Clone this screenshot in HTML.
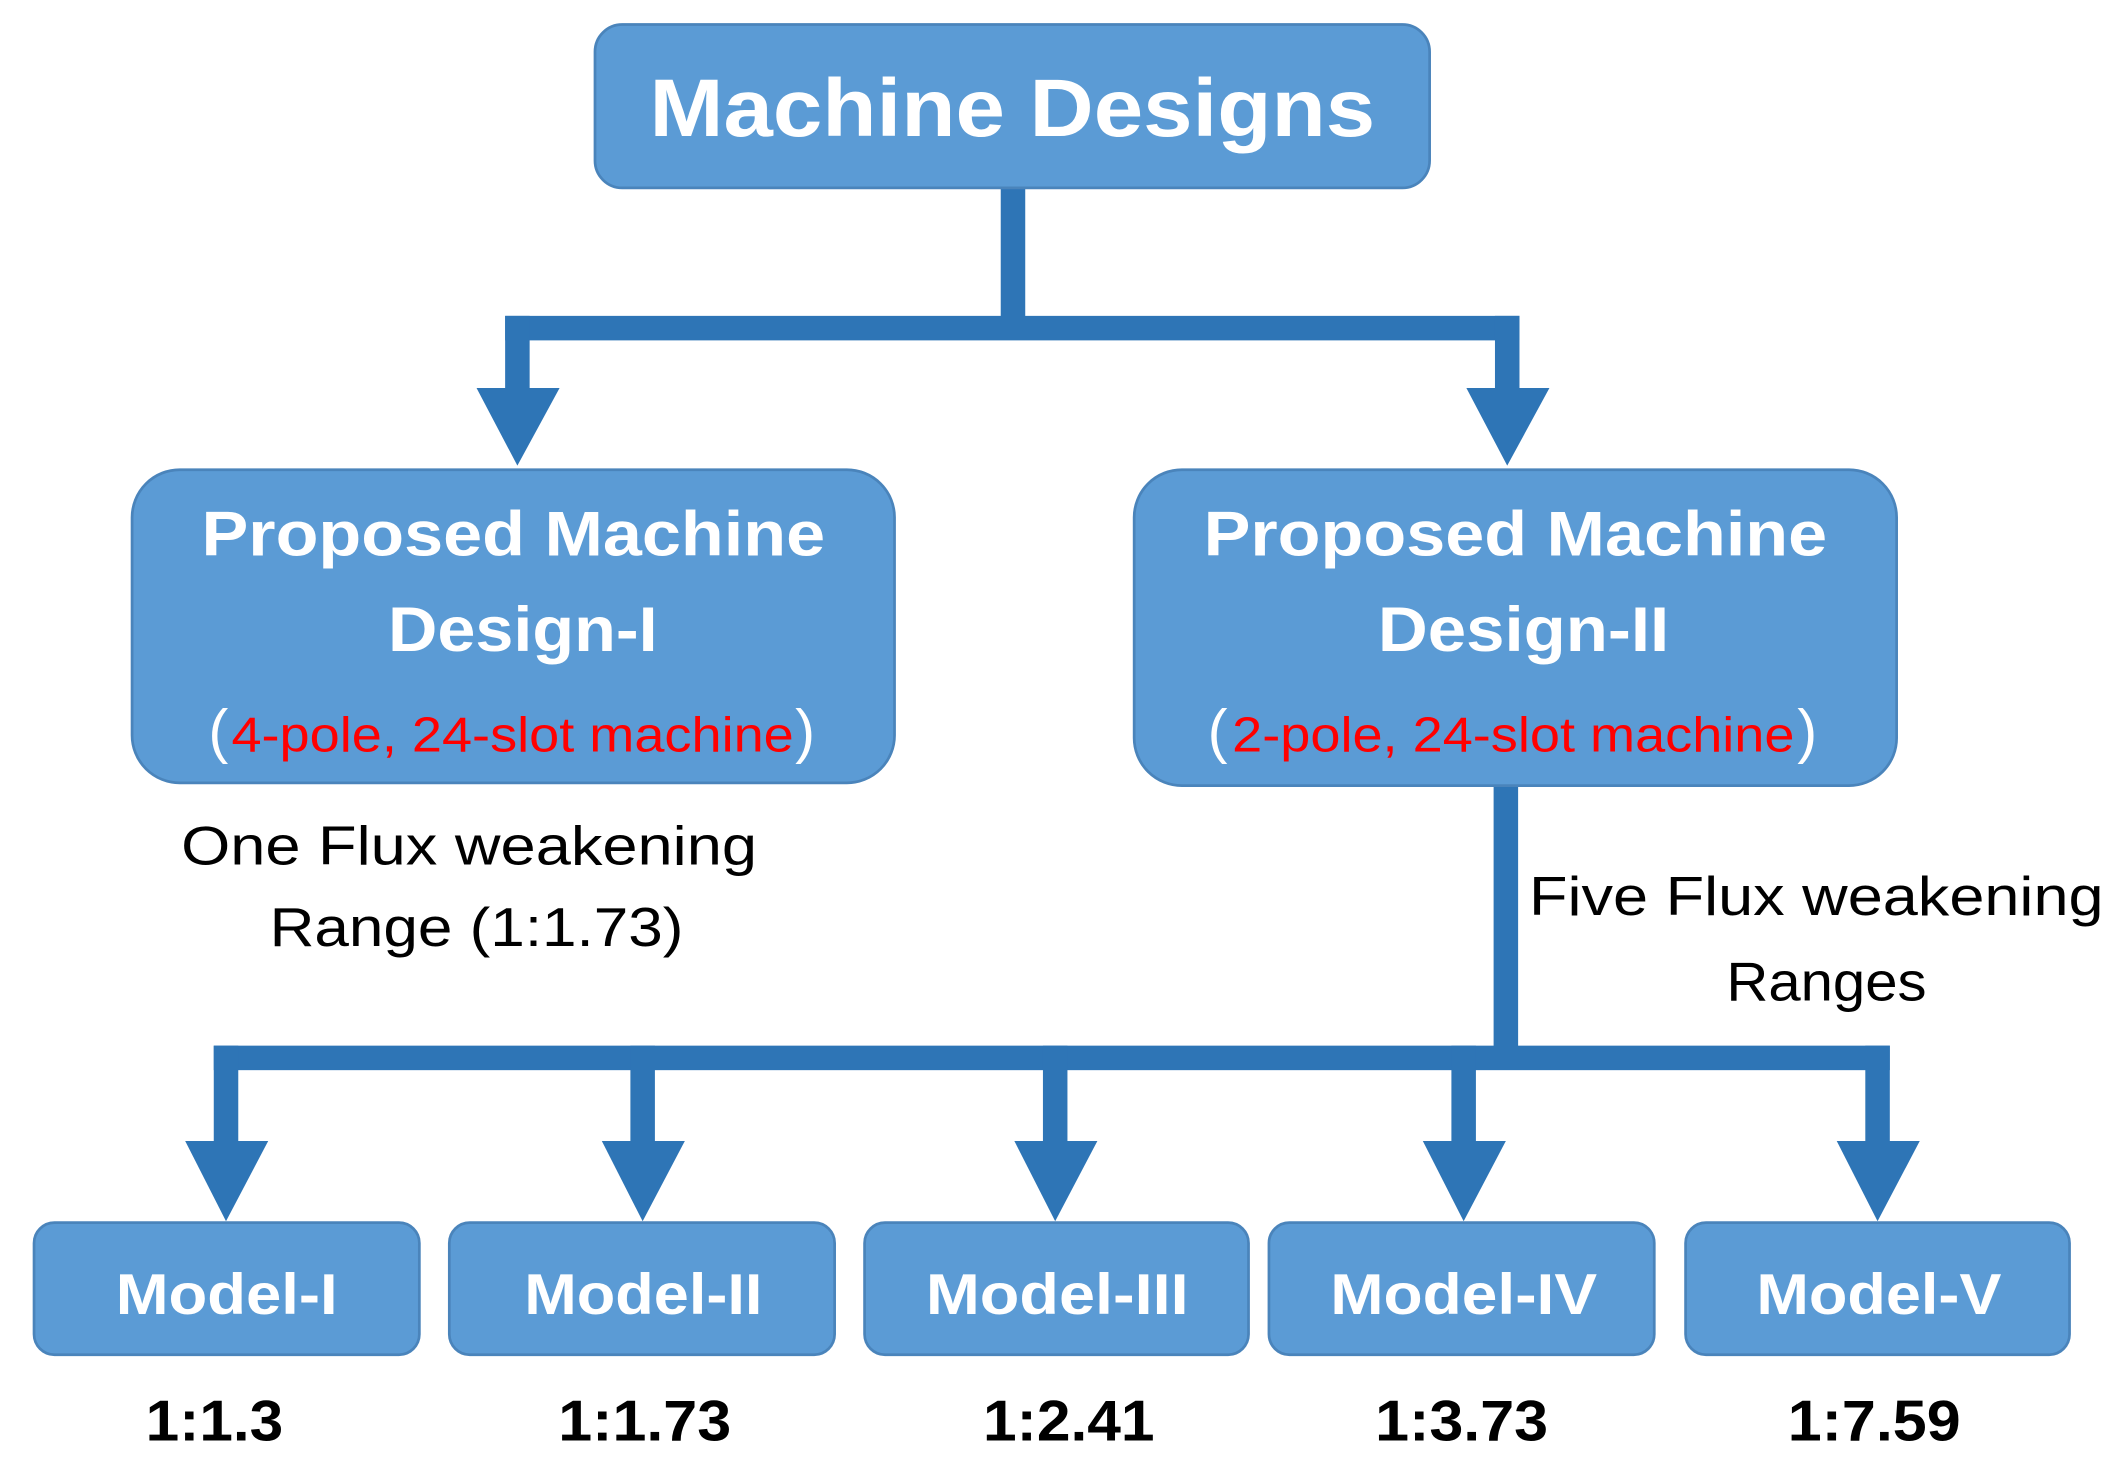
<!DOCTYPE html>
<html><head><meta charset="utf-8"><style>html,body{margin:0;padding:0;background:#fff}svg{display:block}</style></head>
<body>
<svg width="2124" height="1465" viewBox="0 0 1560 1076" preserveAspectRatio="none" xmlns="http://www.w3.org/2000/svg" font-family="'Liberation Sans', sans-serif">
<g fill="#2e75b6">
<rect x="735" y="136" width="18" height="110"/>
<rect x="371" y="232" width="745" height="18"/>
<rect x="371" y="232" width="18" height="60"/>
<rect x="1098" y="232" width="18" height="60"/>
<polygon points="350,285 411,285 380,342"/>
<polygon points="1077,285 1138,285 1107,342"/>
<rect x="1097" y="570" width="18" height="210"/>
<rect x="157" y="768" width="1231" height="18"/>
<rect x="157" y="768" width="18" height="75"/><polygon points="136,838 197,838 166,897"/>
<rect x="463" y="768" width="18" height="75"/><polygon points="442,838 503,838 472,897"/>
<rect x="766" y="768" width="18" height="75"/><polygon points="745,838 806,838 775,897"/>
<rect x="1066" y="768" width="18" height="75"/><polygon points="1045,838 1106,838 1075,897"/>
<rect x="1370" y="768" width="18" height="75"/><polygon points="1349,838 1410,838 1379,897"/>
</g>
<g fill="#5b9bd5" stroke="#4a84bb" stroke-width="2">
<rect x="437" y="18" width="613" height="120" rx="20"/>
<rect x="97" y="345" width="560" height="230" rx="35"/>
<rect x="833" y="345" width="560" height="232" rx="35"/>
<rect x="25" y="898" width="283" height="97" rx="15"/>
<rect x="330" y="898" width="283" height="97" rx="15"/>
<rect x="635" y="898" width="282" height="97" rx="15"/>
<rect x="932" y="898" width="283" height="97" rx="15"/>
<rect x="1238" y="898" width="282" height="97" rx="15"/>
</g>
<g fill="#fff" font-weight="bold" lengthAdjust="spacingAndGlyphs">
<text x="477" y="100" font-size="60" textLength="533" lengthAdjust="spacingAndGlyphs">Machine Designs</text>
<text x="148" y="408" font-size="46" textLength="458" lengthAdjust="spacingAndGlyphs">Proposed Machine</text>
<text x="285" y="478" font-size="46" textLength="198" lengthAdjust="spacingAndGlyphs">Design-I</text>
<text x="884" y="408" font-size="46" textLength="458" lengthAdjust="spacingAndGlyphs">Proposed Machine</text>
<text x="1012" y="478" font-size="46" textLength="214" lengthAdjust="spacingAndGlyphs">Design-II</text>
<text x="85" y="965" font-size="42" textLength="163" lengthAdjust="spacingAndGlyphs">Model-I</text>
<text x="385" y="965" font-size="42" textLength="175" lengthAdjust="spacingAndGlyphs">Model-II</text>
<text x="680" y="965" font-size="42" textLength="193" lengthAdjust="spacingAndGlyphs">Model-III</text>
<text x="977" y="965" font-size="42" textLength="196" lengthAdjust="spacingAndGlyphs">Model-IV</text>
<text x="1290" y="965" font-size="42" textLength="180" lengthAdjust="spacingAndGlyphs">Model-V</text>
</g>
<g font-size="36">
<text x="153" y="552" fill="#fff" font-size="44">(</text>
<text x="170" y="552" fill="#ff0000" textLength="413" lengthAdjust="spacingAndGlyphs">4-pole, 24-slot machine</text>
<text x="584" y="552" fill="#fff" font-size="44">)</text>
<text x="887" y="552" fill="#fff" font-size="44">(</text>
<text x="905" y="552" fill="#ff0000" textLength="413" lengthAdjust="spacingAndGlyphs">2-pole, 24-slot machine</text>
<text x="1320" y="552" fill="#fff" font-size="44">)</text>
</g>
<g fill="#000" font-size="40">
<text x="133" y="635" textLength="423" lengthAdjust="spacingAndGlyphs">One Flux weakening</text>
<text x="198" y="695" textLength="304" lengthAdjust="spacingAndGlyphs">Range (1:1.73)</text>
<text x="1123" y="672" textLength="422" lengthAdjust="spacingAndGlyphs">Five Flux weakening</text>
<text x="1268" y="735" textLength="147" lengthAdjust="spacingAndGlyphs">Ranges</text>
</g>
<g fill="#000" font-size="42" font-weight="bold">
<text x="107" y="1058" textLength="101" lengthAdjust="spacingAndGlyphs">1:1.3</text>
<text x="410" y="1058" textLength="127" lengthAdjust="spacingAndGlyphs">1:1.73</text>
<text x="722" y="1058" textLength="126" lengthAdjust="spacingAndGlyphs">1:2.41</text>
<text x="1010" y="1058" textLength="127" lengthAdjust="spacingAndGlyphs">1:3.73</text>
<text x="1313" y="1058" textLength="127" lengthAdjust="spacingAndGlyphs">1:7.59</text>
</g>
</svg>
</body></html>
